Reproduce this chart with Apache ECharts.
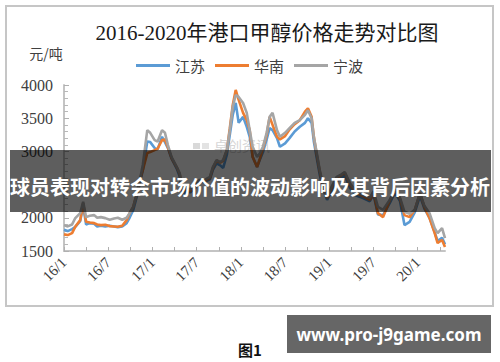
<!DOCTYPE html>
<html>
<head>
<meta charset="utf-8">
<script src="https://cdn.jsdelivr.net/npm/echarts@6/dist/echarts.min.js"></script>
<style>
  html, body { margin: 0; padding: 0; background: #ffffff; }
  #chart { width: 500px; height: 362px; }
</style>
</head>
<body>
<div id="chart"></div>
<script>
// Month offsets from 2016/1 (0 = Jan 2016)
var months = [0, 0.5, 1.1, 1.5, 2.2, 2.6, 3.0, 3.5, 4.1, 4.5, 5.0, 5.6, 6.2, 6.8, 7.3, 7.9,
  8.5, 8.9, 9.4, 9.9, 10.3, 10.7, 11.3, 11.7, 12.3, 12.7, 13.3, 13.7, 14.1, 14.6, 15.3, 15.7,
  16.1, 16.7, 17.1, 17.8, 18.4, 19.1, 19.8, 20.2, 20.7, 21.2, 21.6, 22.1, 22.5, 22.9, 23.3, 23.7,
  24.3, 24.8, 25.2, 25.6, 26.2, 26.6, 27.0, 27.5, 27.9, 28.3, 28.9, 29.3, 30.0, 30.6, 31.3, 32.0,
  32.7, 33.1, 33.6, 33.9, 34.3, 34.7, 35.1, 35.7, 36.3, 37.0, 37.6, 38.1, 38.8, 39.7, 40.5, 41.5,
  42.0, 42.6, 43.3, 44.2, 44.9, 45.6, 46.2, 46.9, 47.6, 48.3, 48.9, 49.6, 50.3, 50.7, 51.3, 51.7];

var jiangsu = [1820, 1800, 1830, 1860, 1950, 2180, 1900, 1920, 1910, 1870, 1880, 1870, 1880, 1870, 1860, 1870,
  1920, 2000, 2120, 2330, 2530, 2720, 3150, 3140, 3050, 3030, 3220, 3140, 3050, 2890, 2740, 2620,
  2345, 2420, 2380, 2450, 2540, 2540, 2580, 2720, 2820, 2790, 2750, 2950, 3250, 3550, 3730, 3430,
  3520, 3370, 3220, 2920, 2765, 2880, 2990, 3180, 3350, 3320, 3200, 3070, 3120, 3200, 3300, 3370,
  3430, 3500, 3430, 3150, 2900, 2650, 2450, 2270, 2400, 2550, 2600, 2640, 2450, 2330, 2300, 2250,
  2350, 2050, 2040, 2220, 2380, 2250, 1890, 1940, 2080, 2330, 2140, 2000, 1780, 1650, 1700, 1600];

var huanan = [1750, 1740, 1770, 1860, 1965, 2220, 1940, 1930, 1920, 1900, 1890, 1895, 1875, 1870, 1865, 1880,
  1965, 2070, 2165, 2375, 2570, 2720, 2975, 2990, 3020, 3040, 3170, 3180, 3060, 2900, 2760, 2660,
  2400, 2450, 2400, 2480, 2560, 2560, 2600, 2750, 2860, 2830, 2860, 3020, 3350, 3700, 3925, 3775,
  3580, 3470, 3320, 2915, 2765, 2900, 3050, 3250, 3520, 3400, 3220, 3180, 3230, 3330, 3410, 3470,
  3600, 3650, 3520, 3220, 2950, 2700, 2500, 2300, 2440, 2600, 2640, 2680, 2500, 2370, 2330, 2270,
  2380, 2070, 2010, 2260, 2420, 2280, 2040, 2010, 2120, 2370, 2165, 1995, 1770, 1620, 1665, 1560];

var ningbo = [1890, 1870, 1900, 1990, 2070, 2240, 2010, 2030, 2040, 2000, 2010, 1995, 1970, 1990, 2000, 1970,
  2000, 2070, 2165, 2375, 2570, 2800, 3320, 3280, 3170, 3150, 3320, 3280, 3095, 2915, 2765, 2670,
  2420, 2465, 2420, 2495, 2570, 2570, 2615, 2765, 2870, 2840, 2870, 3020, 3320, 3670, 3850, 3820,
  3730, 3580, 3320, 3070, 2915, 2975, 3070, 3280, 3520, 3580, 3320, 3220, 3280, 3350, 3430, 3470,
  3550, 3620, 3500, 3220, 2975, 2720, 2525, 2315, 2465, 2615, 2650, 2690, 2520, 2390, 2345, 2300,
  2400, 2165, 2120, 2270, 2420, 2300, 2090, 2060, 2120, 2370, 2180, 2070, 1845, 1770, 1845, 1695];

var seriesNames = ['江苏', '华南', '宁波'];
var tickMonths = [0, 3, 6, 9, 12, 15, 18, 21, 24, 27, 30, 33, 36, 39, 42, 45, 48, 51];
var labelMonths = [0, 6, 12, 18, 24, 30, 36, 42, 48];
var tickLabels = ['16/1', '16/7', '17/1', '17/7', '18/1', '18/7', '19/1', '19/7', '20/1'];
// 2500 sits under the banner in the reference, so it is not shown
var yLabels = [1500, 2000, 3000, 3500, 4000];

function pairs(vals) {
  return months.map(function (m, i) { return [m, vals[i]]; });
}

var chart = echarts.init(document.getElementById('chart'), null, { renderer: 'svg' });

var serif = '"Liberation Serif", "DejaVu Serif", "Noto Sans CJK SC", serif';
var cjk = '"Noto Sans CJK SC", "Noto Sans", sans-serif';

var option = {
  animation: false,
  backgroundColor: '#ffffff',
  color: ['#5B9BD5', '#ED7D31', '#A5A5A5'],
  grid: { left: 64, right: 55, top: 85, bottom: 111, containLabel: false },
  legend: {
    data: seriesNames,
    left: 131,
    top: 53,
    icon: 'rect',
    itemWidth: 34,
    itemHeight: 3,
    itemGap: 10,
    textStyle: { fontFamily: cjk, fontSize: 15, color: '#404040' }
  },
  xAxis: {
    type: 'value',
    min: 0,
    max: 51.7,
    interval: 3,
    splitLine: { show: false },
    axisLine: { show: true, lineStyle: { color: '#c4c4c4', width: 2 } },
    axisTick: { show: true, inside: true, length: 4, customValues: tickMonths, lineStyle: { color: '#b0b0b0', width: 1 } },
    axisLabel: {
      customValues: labelMonths,
      rotate: 45,
      margin: 9,
      fontFamily: serif,
      fontSize: 15,
      color: '#404040',
      formatter: function (v) {
        var idx = labelMonths.indexOf(Math.round(v));
        return idx >= 0 ? tickLabels[idx] : '';
      }
    }
  },
  yAxis: {
    type: 'value',
    min: 1500,
    max: 4000,
    interval: 500,
    splitLine: { show: false },
    axisLine: { show: true, lineStyle: { color: '#c4c4c4', width: 2 } },
    axisTick: { show: true, inside: true, length: 5, lineStyle: { color: '#b0b0b0' } },
    minorTick: { show: true, splitNumber: 5, length: 4, lineStyle: { color: '#b8b8b8' } },
    axisLabel: {
      margin: 11,
      fontFamily: serif,
      fontSize: 16,
      color: '#404040',
      formatter: function (v) { return yLabels.indexOf(v) >= 0 ? String(v) : ''; }
    }
  },
  series: [
    { name: seriesNames[0], type: 'line', data: pairs(jiangsu), showSymbol: false, symbol: 'none', lineStyle: { width: 2.6 }, z: 2 },
    { name: seriesNames[1], type: 'line', data: pairs(huanan), showSymbol: false, symbol: 'none', lineStyle: { width: 2.6 }, z: 3 },
    { name: seriesNames[2], type: 'line', data: pairs(ningbo), showSymbol: false, symbol: 'none', lineStyle: { width: 2.6 }, z: 4 }
  ],
  graphic: [
    { type: 'rect', z: 0, silent: true, shape: { x: 6, y: 6, width: 487, height: 300 },
      style: { fill: 'none', stroke: '#c6c6c6', lineWidth: 2 } },
    // faint watermark
    { type: 'rect', z: 1, silent: true, shape: { x: 193, y: 143, width: 7, height: 6 }, style: { fill: '#d9d9d9' } },
    { type: 'rect', z: 1, silent: true, shape: { x: 202, y: 143, width: 7, height: 6 }, style: { fill: '#e3e3e3' } },
    { type: 'text', z: 1, silent: true, style: { text: '卓创资讯', x: 214, y: 146, fontFamily: serif, fontSize: 14, fill: '#d6d6d6', textVerticalAlign: 'middle', verticalAlign: 'middle' } },
    // title
    { type: 'text', z: 10, silent: true, style: { text: '2016-2020年港口甲醇价格走势对比图', x: 267, y: 33, align: 'center', verticalAlign: 'middle', textAlign: 'center', textVerticalAlign: 'middle', fontFamily: serif, fontSize: 21, fill: '#1a1a1a' } },
    // unit
    { type: 'text', z: 10, silent: true, style: { text: '元/吨', x: 46, y: 53, align: 'center', verticalAlign: 'middle', textAlign: 'center', textVerticalAlign: 'middle', fontFamily: cjk, fontSize: 14, fill: '#404040' } },
    // overlay banner
    { type: 'rect', z: 100, silent: true, shape: { x: 10, y: 150, width: 481, height: 62 }, style: { fill: 'rgba(0,0,0,0.63)' } },
    { type: 'text', z: 101, silent: true, style: { text: '球员表现对转会市场价值的波动影响及其背后因素分析', x: 250, y: 186, align: 'center', verticalAlign: 'middle', textAlign: 'center', textVerticalAlign: 'middle', fontFamily: cjk, fontWeight: 'bold', fontSize: 20, fill: '#ffffff' } },
    // footer
    { type: 'rect', z: 100, silent: true, shape: { x: 287, y: 315, width: 204, height: 38 }, style: { fill: '#666666' } },
    { type: 'text', z: 101, silent: true, style: { text: 'www.pro-j9game.com', x: 389, y: 334, align: 'center', verticalAlign: 'middle', textAlign: 'center', textVerticalAlign: 'middle', fontFamily: '"Noto Sans", "Open Sans", sans-serif', fontWeight: 'bold', fontSize: 17, fill: '#ffffff' } },
    { type: 'text', z: 101, silent: true, style: { text: '图1', x: 250, y: 349, align: 'center', verticalAlign: 'middle', textAlign: 'center', textVerticalAlign: 'middle', fontFamily: cjk, fontWeight: 'bold', fontSize: 15, fill: '#111111' } }
  ]
};

chart.setOption(option);
</script>
</body>
</html>
